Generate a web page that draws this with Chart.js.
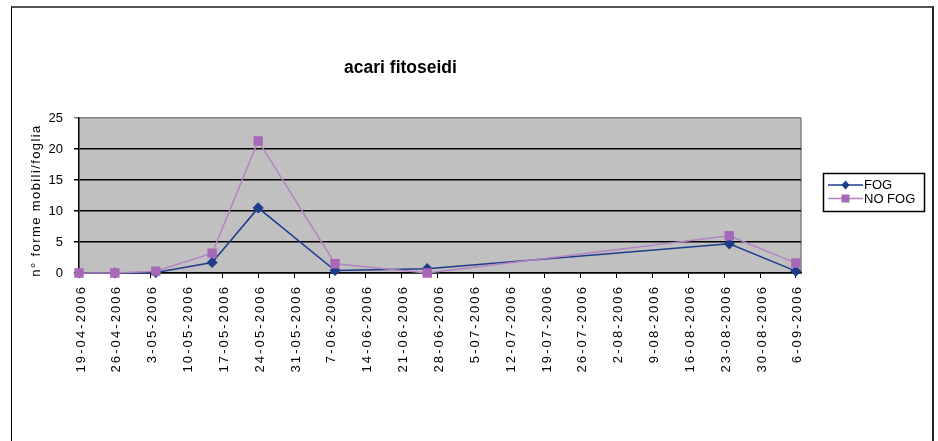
<!DOCTYPE html>
<html><head><meta charset="utf-8">
<script src="https://cdn.jsdelivr.net/npm/chart.js@4/dist/chart.umd.min.js"></script>
<style>
html,body{margin:0;padding:0;background:#fff;overflow:hidden;width:938px;height:441px;}
#frame{position:absolute;left:11px;top:6px;width:920px;height:470px;border-top:2px solid #555;border-left:1px solid #000;border-right:2px solid #222;}
#c{position:absolute;left:0;top:0;}
</style></head><body>
<div id="frame"></div>
<canvas id="c" width="938" height="441"></canvas>
<script>
const chartTitle = 'acari fitoseidi';
const yAxisTitle = 'n° forme mobili/foglia';
const seriesNames = ['FOG', 'NO FOG'];
const tickLabels = ['19-04-2006','26-04-2006','3-05-2006','10-05-2006','17-05-2006','24-05-2006','31-05-2006','7-06-2006','14-06-2006','21-06-2006','28-06-2006','5-07-2006','12-07-2006','19-07-2006','26-07-2006','2-08-2006','9-08-2006','16-08-2006','23-08-2006','30-08-2006','6-09-2006'];
const tickDays = [0,7,14,21,28,35,42,49,56,63,70,77,84,91,98,105,112,119,126,133,140];
const sampleDays = [0,7,15,26,35,50,68,127,140];
const fogValues = [0,0,0.1,1.7,10.5,0.4,0.7,4.7,0.3];
const noFogValues = [0,0,0.3,3.2,21.3,1.5,0,6.0,1.6];

Chart.defaults.font.family = "'Liberation Sans', Arial, sans-serif";
Chart.defaults.color = '#000';

class SpacedLinearScale extends Chart.LinearScale {
  drawLabels(area) {
    const ctx = this.ctx; ctx.save();
    if (this.axis === 'x') ctx.letterSpacing = '2.1px';
    super.drawLabels(area); ctx.restore();
  }
  drawTitle() {
    const ctx = this.ctx; ctx.save();
    ctx.letterSpacing = '1.4px';
    if (this.axis === 'y') ctx.translate(0, 5);
    super.drawTitle(); ctx.restore();
  }
}
SpacedLinearScale.id = 'spacedLinear';
SpacedLinearScale.defaults = Chart.LinearScale.defaults;
Chart.register(SpacedLinearScale);

const toPoints = (vals) => sampleDays.map((d, i) => ({x: d, y: vals[i]}));

const plotArea = {
  id: 'plotArea',
  beforeDraw(chart) {
    const {ctx, chartArea: a} = chart;
    ctx.save();
    ctx.fillStyle = '#C0C0C0';
    ctx.fillRect(a.left, a.top, a.width, a.height);
    ctx.strokeStyle = '#808080'; ctx.lineWidth = 1.5;
    ctx.beginPath(); ctx.moveTo(a.right, a.top); ctx.lineTo(a.right, a.bottom); ctx.stroke();
    ctx.restore();
  }
};

const boxLegend = {
  id: 'boxLegend',
  afterDraw(chart) {
    const ctx = chart.ctx;
    ctx.save();
    ctx.fillStyle = '#fff';
    ctx.fillRect(823.5, 173.5, 101, 38);
    ctx.strokeStyle = '#000'; ctx.lineWidth = 1.5;
    ctx.strokeRect(823.5, 173.5, 101, 38);
    chart.data.datasets.forEach((ds, i) => {
      const y = 185 + i * 13.5;
      ctx.strokeStyle = ds.borderColor; ctx.lineWidth = 1.5;
      ctx.beginPath(); ctx.moveTo(828, y); ctx.lineTo(863, y); ctx.stroke();
      ctx.fillStyle = ds.pointBackgroundColor;
      ctx.beginPath();
      if (ds.pointStyle === 'rectRot') {
        ctx.moveTo(845.5, y - 4.5); ctx.lineTo(849.5, y); ctx.lineTo(845.5, y + 4.5); ctx.lineTo(841.5, y); ctx.closePath();
      } else {
        ctx.rect(841.5, y - 4, 8, 8);
      }
      ctx.fill();
      ctx.fillStyle = '#000';
      ctx.font = "13px 'Liberation Sans', Arial, sans-serif";
      ctx.textBaseline = 'middle';
      ctx.fillText(ds.label, 864, y + 0.5);
    });
    ctx.restore();
  }
};

new Chart(document.getElementById('c'), {
  type: 'line',
  data: {
    datasets: [
      { label: seriesNames[0], data: toPoints(fogValues), borderColor: '#1E3C8C', backgroundColor: '#1E3C8C',
        pointBackgroundColor: '#1E3C8C', pointBorderColor: '#1E3C8C', pointStyle: 'rectRot', pointRadius: 4.5,
        borderWidth: 1.5, tension: 0, clip: false, order: 1 },
      { label: seriesNames[1], data: toPoints(noFogValues), borderColor: '#B483C4', backgroundColor: '#A868B8',
        pointBackgroundColor: '#A868B8', pointBorderColor: '#A868B8', pointStyle: 'rect', pointRadius: 5.6,
        borderWidth: 1.5, tension: 0, clip: false, order: 0 }
    ]
  },
  options: {
    responsive: false, animation: false, devicePixelRatio: 1,
    layout: { padding: { left: 0, right: 137, top: 0, bottom: 0 } },
    plugins: {
      legend: { display: false }, tooltip: { enabled: false },
      title: { display: true, text: chartTitle, color: '#000',
        font: { family: "'Liberation Sans Narrow', 'Liberation Sans', Arial, sans-serif", size: 17.5, weight: 'bold' },
        padding: { top: 58, bottom: 39 } }
    },
    scales: {
      x: {
        type: 'spacedLinear', position: 'bottom', min: 0, max: 141,
        afterFit: (s) => { s.height = 168; },
        afterBuildTicks: (s) => { s.ticks = tickDays.map(v => ({ value: v })); },
        grid: { drawOnChartArea: false, drawTicks: true, tickLength: 5, color: '#000' },
        border: { color: '#000', width: 1.5 },
        ticks: { autoSkip: false, minRotation: 90, maxRotation: 90, padding: 7, labelOffset: 2,
          font: { size: 13 }, color: '#000',
          callback: (v) => { const i = tickDays.indexOf(v); return i >= 0 ? tickLabels[i] : ''; } }
      },
      y: {
        type: 'spacedLinear', min: 0, max: 25,
        afterFit: (s) => { s.width = 79; },
        grid: { drawTicks: true, tickLength: 5, lineWidth: 1.5,
          color: (c) => (c.tick && c.tick.value === 25) ? '#808080' : '#000' },
        border: { color: '#000', width: 1.5 },
        ticks: { stepSize: 5, padding: 11, font: { size: 13 }, color: '#000' },
        title: { display: true, text: yAxisTitle, color: '#000', font: { size: 13 }, padding: { top: 29, bottom: 0 } }
      }
    }
  },
  plugins: [plotArea, boxLegend]
});
</script>
</body></html>
